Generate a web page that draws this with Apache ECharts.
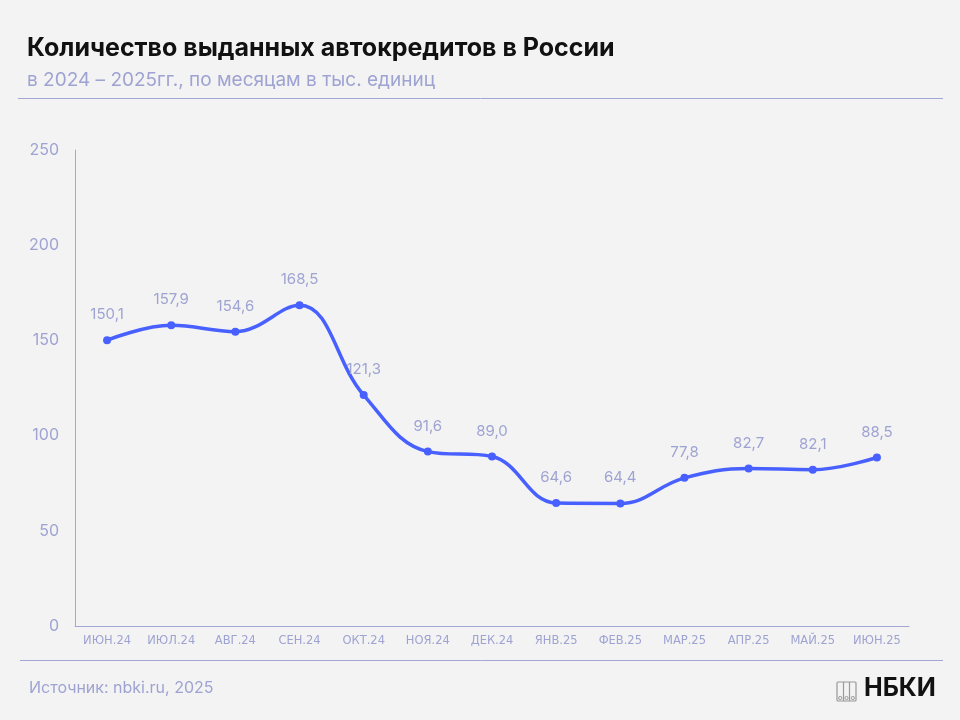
<!DOCTYPE html>
<html lang="ru">
<head>
    <meta charset="UTF-8">
    <title>Количество выданных автокредитов в России</title>
    <script src="https://cdn.jsdelivr.net/npm/echarts@6/dist/echarts.min.js"></script>
    <style>
        html, body { margin: 0; padding: 0; background: #f3f3f3; }
        #container { width: 960px; height: 720px; }
    </style>
</head>
<body>
<div id="container"></div>
<script type="text/javascript">
    // данные
    var months = ['ИЮН.24', 'ИЮЛ.24', 'АВГ.24', 'СЕН.24', 'ОКТ.24', 'НОЯ.24', 'ДЕК.24',
                  'ЯНВ.25', 'ФЕВ.25', 'МАР.25', 'АПР.25', 'МАЙ.25', 'ИЮН.25'];
    var loans = [150.1, 157.9, 154.6, 168.5, 121.3, 91.6, 89.0, 64.6, 64.4, 77.8, 82.7, 82.1, 88.5];

    var lavender = '#9ea3d2';
    var blue = '#4760ff';

    var dom = document.getElementById('container');
    var myChart = echarts.init(dom);

    var option = {
        backgroundColor: '#f3f3f3',
        animation: false,
        title: {
            text: 'Количество выданных автокредитов в России',
            subtext: 'в 2024 – 2025гг., по месяцам в тыс. единиц',
            left: 22,
            top: 31,
            itemGap: 10,
            textStyle: { fontFamily: 'Inter', fontSize: 25, fontWeight: 'bold', color: '#111' },
            subtextStyle: { fontFamily: 'Inter', fontSize: 19, color: lavender }
        },
        grid: { left: 75, right: 51, top: 150, bottom: 94 },
        xAxis: {
            type: 'category',
            data: months,
            axisLine: { lineStyle: { color: '#a3a7d6', width: 1 } },
            axisTick: { show: false },
            axisLabel: {
                color: lavender,
                fontFamily: 'DejaVu Sans',
                fontSize: 11.5,
                margin: 9,
                interval: 0
            }
        },
        yAxis: {
            type: 'value',
            min: 0,
            max: 250,
            interval: 50,
            axisLine: { show: true, lineStyle: { color: '#a3a7d6', width: 1 } },
            axisTick: { show: false },
            splitLine: { show: false },
            axisLabel: { color: lavender, fontFamily: 'Inter', fontSize: 16, margin: 16 }
        },
        series: [{
            type: 'line',
            data: loans,
            smooth: 0.4,
            symbol: 'circle',
            symbolSize: 8,
            lineStyle: { color: blue, width: 3.5 },
            itemStyle: { color: blue },
            label: {
                show: true,
                position: 'top',
                distance: 14,
                color: lavender,
                fontFamily: 'Inter',
                fontSize: 15,
                formatter: function (p) { return p.value.toFixed(1).replace('.', ','); }
            }
        }],
        graphic: [
            { type: 'line', shape: { x1: 18, y1: 98.5, x2: 943, y2: 98.5 },
              style: { stroke: '#a3a7d6', lineWidth: 1 } },
            { type: 'line', shape: { x1: 20, y1: 660.5, x2: 943, y2: 660.5 },
              style: { stroke: '#a3a7d6', lineWidth: 1 } },
            { type: 'text', left: 29, top: 680,
              style: { text: 'Источник: nbki.ru, 2025', fill: lavender, font: '16px Inter' } },
            { type: 'text', left: 864, top: 676,
              style: { text: 'НБКИ', fill: '#111', font: 'bold 25px Inter' } },
            { type: 'rect', shape: { x: 837, y: 682, width: 19, height: 19, r: 1 },
              style: { fill: 'none', stroke: '#999', lineWidth: 1.2 } },
            { type: 'line', shape: { x1: 843.5, y1: 682, x2: 843.5, y2: 701 },
              style: { stroke: '#999', lineWidth: 1.2 } },
            { type: 'line', shape: { x1: 849.5, y1: 682, x2: 849.5, y2: 701 },
              style: { stroke: '#999', lineWidth: 1.2 } },
            { type: 'circle', shape: { cx: 840.2, cy: 698, r: 1.6 },
              style: { fill: 'none', stroke: '#999', lineWidth: 1 } },
            { type: 'circle', shape: { cx: 846.5, cy: 698, r: 1.6 },
              style: { fill: 'none', stroke: '#999', lineWidth: 1 } },
            { type: 'circle', shape: { cx: 852.8, cy: 698, r: 1.6 },
              style: { fill: 'none', stroke: '#999', lineWidth: 1 } }
        ]
    };

    myChart.setOption(option, true);
</script>
</body>
</html>
